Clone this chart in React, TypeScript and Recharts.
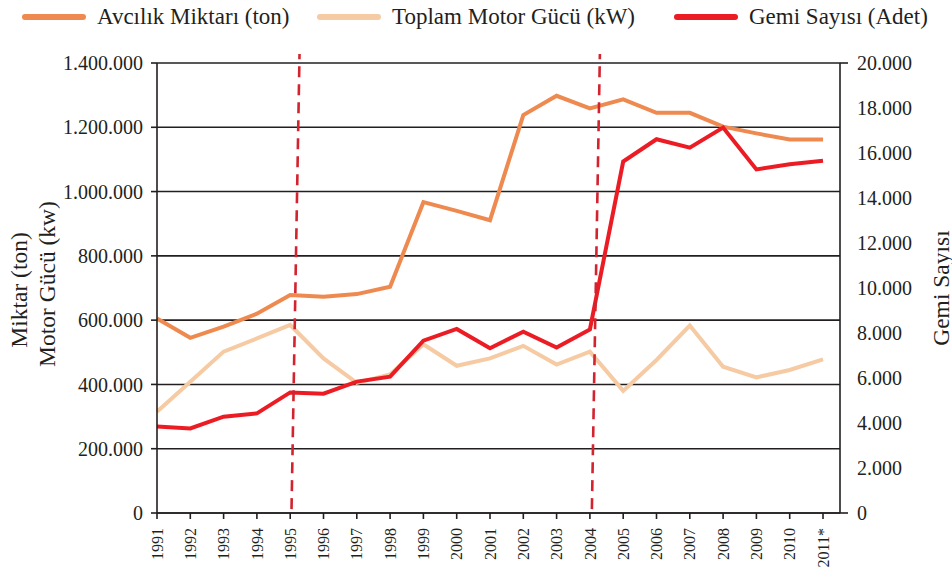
import {
  LineChart,
  Line,
  XAxis,
  YAxis,
  CartesianGrid,
  ReferenceLine,
} from 'recharts';

const YEARS = [1991, 1992, 1993, 1994, 1995, 1996, 1997, 1998, 1999, 2000, 2001, 2002, 2003, 2004, 2005, 2006, 2007, 2008, 2009, 2010, 2011];
const YEAR_LABELS = ['1991', '1992', '1993', '1994', '1995', '1996', '1997', '1998', '1999', '2000', '2001', '2002', '2003', '2004', '2005', '2006', '2007', '2008', '2009', '2010', '2011*'];

// Avcılık Miktarı (ton)
const CATCH = [605000, 545000, 580000, 620000, 678000, 673000, 681000, 704000, 967000, 940000, 911000, 1238000, 1298000, 1259000, 1287000, 1245000, 1245000, 1202000, 1181000, 1162000, 1162000];
// Toplam Motor Gücü (kW)
const MOTOR = [315000, 408000, 502000, 543000, 585000, 481000, 405000, 431000, 525000, 458000, 481000, 520000, 462000, 502000, 380000, 476000, 583000, 455000, 422000, 445000, 478000];
// Gemi Sayısı (Adet)
const VESSELS = [3840, 3760, 4280, 4430, 5360, 5300, 5840, 6060, 7660, 8180, 7320, 8060, 7350, 8160, 15620, 16610, 16240, 17130, 15270, 15500, 15660];

const SERIES_NAMES = ['Avcılık Miktarı (ton)', 'Toplam Motor Gücü (kW)', 'Gemi Sayısı (Adet)'];
const LEFT_TICKS = [0, 200000, 400000, 600000, 800000, 1000000, 1200000, 1400000];
const RIGHT_TICKS = [0, 2000, 4000, 6000, 8000, 10000, 12000, 14000, 16000, 18000, 20000];
// policy breaks, drawn as dashed markers (bottom year, top year)
const BREAKS = [
  [1995.04, 1995.28],
  [2004.06, 2004.3],
];

const data = YEARS.map((year, i) => ({
  year,
  catch: CATCH[i],
  motor: MOTOR[i],
  vessels: VESSELS[i],
}));

const INK = '#231f20';
const FONT = '"Liberation Serif", "DejaVu Serif", serif';
const COLORS = ['#ee8a4f', '#f6caa2', '#ec1c24'];
const LEGEND_LEFT = [14, 309, 666];

const fmt = (n: number) => String(n).replace(/\B(?=(\d{3})+(?!\d))/g, '.');

function XTick({ x, y, payload }: any) {
  const idx = YEARS.indexOf(payload.value);
  return (
    <text
      transform={`translate(${x},${y + 7}) rotate(-90)`}
      textAnchor="end"
      dy="0.35em"
      fontSize={16}
      fontFamily={FONT}
      fill={INK}
    >
      {YEAR_LABELS[idx] ?? payload.value}
    </text>
  );
}

function RightTick({ x, y, payload }: any) {
  const edge = payload.value === 0 || payload.value === 20000;
  return (
    <g>
      {edge && <line x1={x - 17} x2={x - 9} y1={y} y2={y} stroke={INK} strokeWidth={1.6} />}
      <text x={x} y={y} dy="0.35em" textAnchor="start" fontSize={20} fontFamily={FONT} fill={INK}>
        {fmt(payload.value)}
      </text>
    </g>
  );
}

function LeftTitle({ viewBox }: any) {
  const cy = viewBox.y + viewBox.height / 2;
  return (
    <g fontFamily={FONT} fontSize={23.5} fill={INK}>
      <text x={11} y={cy + 2} transform={`rotate(-90 11 ${cy + 2})`} textAnchor="middle" dy="0.35em">
        Miktar (ton)
      </text>
      <text x={39} y={cy - 4} transform={`rotate(-90 39 ${cy - 4})`} textAnchor="middle" dy="0.35em">
        Motor Gücü (kw)
      </text>
    </g>
  );
}

function RightTitle({ viewBox }: any) {
  const cy = viewBox.y + viewBox.height / 2;
  const cx = viewBox.x + viewBox.width - 11;
  return (
    <text
      x={cx}
      y={cy}
      transform={`rotate(-90 ${cx} ${cy})`}
      textAnchor="middle"
      dy="0.35em"
      fontFamily={FONT}
      fontSize={23.5}
      fill={INK}
    >
      Gemi Sayısı
    </text>
  );
}

export default function App() {
  return (
    <div style={{ position: 'absolute', top: 8, left: 8, width: 944, height: 561, fontFamily: FONT }}>
      {SERIES_NAMES.map((name, i) => (
        <div
          key={name}
          style={{
            position: 'absolute',
            left: LEGEND_LEFT[i],
            top: -3,
            height: 24,
            display: 'flex',
            alignItems: 'center',
            whiteSpace: 'nowrap',
          }}
        >
          <span
            style={{
              display: 'inline-block',
              width: 64,
              height: 6,
              borderRadius: 3,
              background: COLORS[i],
            }}
          />
          <span style={{ marginLeft: 11, fontSize: 23, color: INK }}>{name}</span>
        </div>
      ))}
      <LineChart width={944} height={561} data={data} margin={{ top: 55, right: 0, bottom: 0, left: 0 }}>
        <CartesianGrid
          yAxisId="left"
          vertical={false}
          stroke={INK}
          strokeWidth={1.6}
          horizontalValues={LEFT_TICKS}
        />
        <XAxis
          dataKey="year"
          type="number"
          domain={[1991, 2011]}
          ticks={YEARS}
          interval={0}
          padding={{ left: 0, right: 17 }}
          height={56}
          tickSize={6}
          tickMargin={2}
          tick={<XTick />}
          axisLine={{ stroke: INK, strokeWidth: 1.6 }}
          tickLine={{ stroke: INK, strokeWidth: 1.6 }}
        />
        <YAxis
          yAxisId="left"
          width={149}
          domain={[0, 1400000]}
          ticks={LEFT_TICKS}
          interval={0}
          tickFormatter={fmt}
          tickSize={6}
          tickMargin={8}
          tick={{ fontSize: 20, fill: INK, fontFamily: FONT }}
          axisLine={{ stroke: INK, strokeWidth: 1.6 }}
          tickLine={{ stroke: INK, strokeWidth: 1.6 }}
          label={{ content: <LeftTitle /> }}
        />
        <YAxis
          yAxisId="right"
          orientation="right"
          width={112}
          domain={[0, 20000]}
          ticks={RIGHT_TICKS}
          interval={0}
          tickSize={8}
          tickMargin={9}
          tick={<RightTick />}
          tickLine={false}
          axisLine={{ stroke: INK, strokeWidth: 1.6 }}
          label={{ content: <RightTitle /> }}
        />
        <Line
          yAxisId="left"
          dataKey="motor"
          name={SERIES_NAMES[1]}
          stroke={COLORS[1]}
          strokeWidth={4}
          dot={false}
          type="linear"
          isAnimationActive={false}
        />
        <Line
          yAxisId="left"
          dataKey="catch"
          name={SERIES_NAMES[0]}
          stroke={COLORS[0]}
          strokeWidth={4}
          dot={false}
          type="linear"
          isAnimationActive={false}
        />
        <Line
          yAxisId="right"
          dataKey="vessels"
          name={SERIES_NAMES[2]}
          stroke={COLORS[2]}
          strokeWidth={4}
          dot={false}
          type="linear"
          isAnimationActive={false}
        />
        {BREAKS.map(([bottom, top]) => (
          <ReferenceLine
            key={bottom}
            yAxisId="left"
            ifOverflow="visible"
            segment={[
              { x: bottom, y: 12000 },
              { x: top, y: 1428000 },
            ]}
            stroke="#d2232f"
            strokeWidth={2.6}
            strokeDasharray="11 7"
          />
        ))}
      </LineChart>
    </div>
  );
}
